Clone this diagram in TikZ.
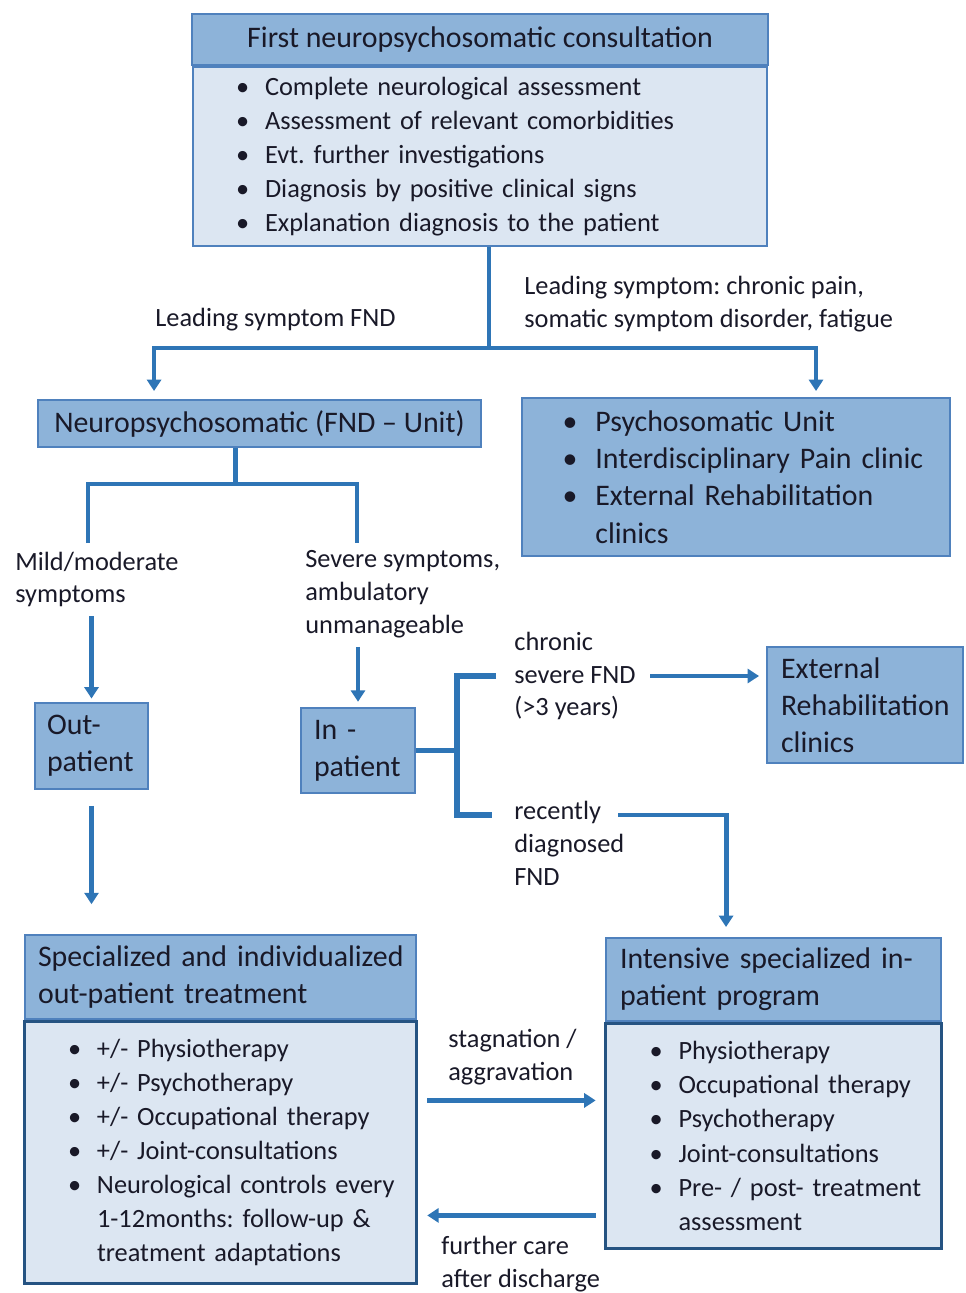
\documentclass[tikz,border=0pt]{standalone}
\usepackage{fontspec}
\setmainfont{Carlito}
\usetikzlibrary{positioning,arrows.meta}
\frenchspacing

\definecolor{hdrblue}{RGB}{141,179,217}
\definecolor{listblue}{RGB}{220,230,242}
\definecolor{edgeblue}{RGB}{79,129,189}
\definecolor{darkedge}{RGB}{37,83,130}
\definecolor{linkblue}{RGB}{46,117,182}
\definecolor{ink}{RGB}{25,25,40}

\newcommand{\bitem}[1]{\makebox[1.1em][l]{\textbullet}\mbox{#1}}
\newcommand{\bcont}[1]{\hspace*{1.1em}\mbox{#1}}

\tikzset{
  hdr/.style={draw=edgeblue, fill=hdrblue, line width=1.1pt, text=ink, inner sep=0pt, align=left},
  lst/.style={draw=edgeblue, fill=listblue, line width=1.1pt, text=ink, inner ysep=0pt, align=left},
  lbl/.style={text=ink, align=left, inner sep=0pt, anchor=west, font=\fontsize{15}{18.7}\selectfont},
  link/.style={draw=linkblue, line width=2.8pt},
  flow/.style={draw=linkblue, line width=2.4pt, -{Triangle[length=6.5pt,width=8pt]}},
}

\begin{document}
\begin{tikzpicture}[x=0.02cm, y=-0.02cm]
\useasboundingbox (0,0) rectangle (965,1293);

% first consultation
\node[hdr, minimum width=11.52cm, minimum height=1.02cm, font=\fontsize{17}{20}\selectfont] (first) at (480,39.5) {First neuropsychosomatic consultation};
\node[lst, below=0pt of first, text width=9.76cm, inner xsep=0.86cm, minimum height=3.58cm, font=\fontsize{15}{19.4}\selectfont] (firstlist)
  {\bitem{Complete neurological assessment}\\
   \bitem{Assessment of relevant comorbidities}\\
   \bitem{Evt. further investigations}\\
   \bitem{Diagnosis by positive clinical signs}\\
   \bitem{Explanation diagnosis to the patient}};

% leading symptom
\node[lbl] (fndlbl) at (155,320) {Leading symptom FND};
\node[lbl] (painlbl) at (524,304) {Leading symptom: chronic pain,\\somatic symptom disorder, fatigue};

\node[hdr, minimum width=8.86cm, minimum height=0.94cm, font=\fontsize{17}{20}\selectfont] (fndunit) at (259.5,423.5) {Neuropsychosomatic (FND -- Unit)};
\node[hdr, text width=6.94cm, inner xsep=0.81cm, minimum height=3.16cm, font=\fontsize{17}{21.2}\selectfont] (psychunit) at (736,477)
  {\bitem{Psychosomatic Unit}\\
   \bitem{Interdisciplinary Pain clinic}\\
   \bitem{External Rehabilitation}\\
   \bcont{clinics}};

\draw[link] ([xshift=0.18cm]firstlist.south) -- ++(0,101) coordinate (leadsplit);
\draw[flow] (leadsplit) -| ([xshift=2.34cm,yshift=0.16cm]fndunit.north west);
\draw[flow] (leadsplit) -| ([xshift=5.9cm,yshift=0.12cm]psychunit.north west);

% out- / in-patient
\node[lbl] (mildlbl) at (15,579.5) {Mild/moderate\\symptoms};
\node[lbl] (severelbl) at (305,594) {Severe symptoms,\\ambulatory\\unmanageable};
\coordinate (mildtop) at (88,543);
\coordinate (severetop) at (357,543);
\draw[link] ([xshift=3.96cm]fndunit.south west) -- ++(0,36) coordinate (unitsplit);
\draw[link] (mildtop) |- (unitsplit) -| (severetop);

\node[hdr, text width=1.78cm, inner xsep=0.24cm, minimum height=1.72cm, font=\fontsize{17}{21}\selectfont] (outpat) at (91.5,746) {Out-\\patient};
\node[hdr, text width=1.76cm, inner xsep=0.26cm, minimum height=1.7cm, font=\fontsize{17}{21}\selectfont] (inpat) at (358,750.5) {In -\\patient};
\draw[flow, shorten <=5pt, shorten >=2pt] (mildlbl.south -| outpat.north) -- (outpat.north);
\draw[flow, shorten <=5pt, shorten >=3pt] (severelbl.south -| inpat.north) -- (inpat.north);

% chronic / recent
\node[lbl] (chroniclbl) at (514,676) {chronic\\severe FND\\(>3 years)};
\node[lbl] (recentlbl) at (514,843.5) {recently\\diagnosed\\FND};
\node[hdr, text width=3.36cm, inner xsep=0.28cm, minimum height=2.32cm, font=\fontsize{17}{21}\selectfont] (extrehab) at (865,705) {External\\\mbox{Rehabilitation}\\clinics};

\coordinate (chronicin) at (496,676);
\coordinate (recentin) at (492,815);
\draw[link, line width=3.2pt] (inpat.east) -- ++(41,0) coordinate (inpatfork);
\draw[link, line width=3.2pt] (chronicin) -| (inpatfork) |- (recentin);
\draw[flow, shorten <=8pt, shorten >=4pt] (chroniclbl.east) -- (chroniclbl.east -| extrehab.west);

% treatment boxes
\node[hdr, text width=7.3cm, inner xsep=0.26cm, minimum height=1.68cm, font=\fontsize{17}{21}\selectfont] (outhdr) at (220.5,977) {\mbox{Specialized and individualized}\\\mbox{out-patient treatment}};
\node[lst, below=0pt of outhdr, draw=darkedge, line width=1.7pt, text width=6.1cm, inner xsep=0.88cm, minimum height=5.24cm, font=\fontsize{15}{19.3}\selectfont] (outlist)
  {\bitem{+/- Physiotherapy}\\
   \bitem{+/- Psychotherapy}\\
   \bitem{+/- Occupational therapy}\\
   \bitem{+/- Joint-consultations}\\
   \bitem{Neurological controls every}\\
   \bcont{1-12months: follow-up \&}\\
   \bcont{treatment adaptations}};

\node[hdr, text width=6.14cm, inner xsep=0.28cm, minimum height=1.66cm, font=\fontsize{17}{21}\selectfont] (inthdr) at (773.5,979.5) {\mbox{Intensive specialized in-}\\\mbox{patient program}};
\node[lst, below=0pt of inthdr, draw=darkedge, line width=1.7pt, text width=4.96cm, inner xsep=0.89cm, minimum height=4.5cm, font=\fontsize{15}{19.4}\selectfont] (intlist)
  {\bitem{Physiotherapy}\\
   \bitem{Occupational therapy}\\
   \bitem{Psychotherapy}\\
   \bitem{Joint-consultations}\\
   \bitem{Pre- / post- treatment}\\
   \bcont{assessment}};

\coordinate (recentout) at (618,815);
\draw[flow, line width=2.8pt] (recentout) -| ([xshift=2.42cm,yshift=0.2cm]inthdr.north west);
\draw[flow, shorten <=9pt, shorten >=17pt] (outpat.south) -- (outpat.south |- outhdr.north);

\node[lbl] (staglbl) at (448,1057) {stagnation /\\aggravation};
\node[lbl] (furtherlbl) at (441,1264.5) {further care\\after discharge};
\draw[flow, shorten <=5pt, shorten >=4.5pt] ([yshift=1.04cm]outlist.east) coordinate (stagfrom) -- (stagfrom -| intlist.west);
\draw[flow, shorten <=4.5pt, shorten >=5pt] ([yshift=-1.59cm]intlist.west) coordinate (carefrom) -- (carefrom -| outlist.east);
\end{tikzpicture}
\end{document}
